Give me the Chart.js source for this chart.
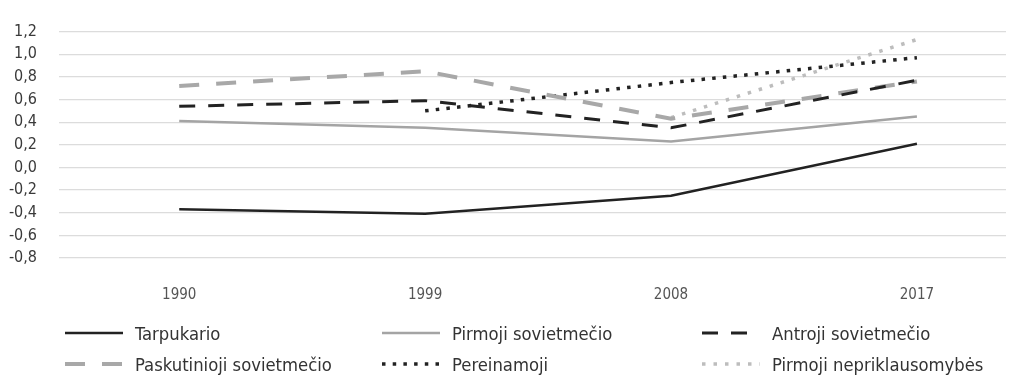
<!DOCTYPE html>
<html>
<head>
<meta charset="utf-8">
<script src="https://cdn.jsdelivr.net/npm/chart.js@4.4.1/dist/chart.umd.min.js"></script>
<style>
  body { margin: 0; background: #fff; }
  #wrap { position: absolute; left: 0; top: 0; width: 1010px; height: 300px; }
  #legend { position: absolute; left: 0; top: 0; width: 1010px; height: 377px;
    font-family: "DejaVu Sans Condensed", "DejaVu Sans", sans-serif;
    font-size: 18.3px; color: #333; pointer-events: none; }
  .item { position: absolute; display: flex; align-items: center; height: 24px; white-space: nowrap; }
  .item svg { margin-right: 12px; }
</style>
</head>
<body>
<div id="wrap"><canvas id="chart"></canvas></div>
<div id="legend"></div>
<script>
const FONT = '"DejaVu Sans Condensed", "DejaVu Sans", sans-serif';

const years = [1990, 1999, 2008, 2017];
const seriesNames = [
  "Tarpukario",
  "Pirmoji sovietmečio",
  "Antroji sovietmečio",
  "Paskutinioji sovietmečio",
  "Pereinamoji",
  "Pirmoji nepriklausomybės",
];

const tarpukario = [-0.37, -0.41, -0.25, 0.21];
const pirmojiSov = [0.41, 0.35, 0.23, 0.45];
const antrojiSov = [0.54, 0.59, 0.35, 0.77];
const paskutiniojiSov = [0.72, 0.85, 0.43, 0.76];
const pereinamoji = [null, 0.5, 0.75, 0.97];
const pirmojiNepr = [null, null, 0.44, 1.13];

// line looks, same order as seriesNames
const styles = [
  { color: "#222", width: 2.5, dash: [] },
  { color: "#a4a4a4", width: 2.5, dash: [] },
  { color: "#222", width: 3, dash: [16, 13] },
  { color: "#a8a8a8", width: 4, dash: [20, 17] },
  { color: "#222", width: 3.5, dash: [3.5, 7.2] },
  { color: "#bdbdbd", width: 3.5, dash: [3.5, 8] },
];

const values = [tarpukario, pirmojiSov, antrojiSov, paskutiniojiSov, pereinamoji, pirmojiNepr];

const datasets = values.map((vals, i) => ({
  label: seriesNames[i],
  data: vals.map((v, j) => ({ x: years[j], y: v })),
  borderColor: styles[i].color,
  borderWidth: styles[i].width,
  borderDash: styles[i].dash,
  borderCapStyle: "butt",
  pointRadius: 0,
  tension: 0,
  fill: false,
}));

const ctx = document.getElementById("chart").getContext("2d");
const chart = new Chart(ctx, {
  type: "line",
  data: { datasets: datasets },
  options: {
    responsive: true,
    maintainAspectRatio: false,
    animation: false,
    layout: { padding: { top: 20, right: 4, left: 0, bottom: 0 } },
    plugins: { legend: { display: false }, tooltip: { enabled: false } },
    scales: {
      x: {
        type: "linear",
        min: 1985.6,
        max: 2020.26,
        afterBuildTicks: (scale) => {
          scale.ticks = years.map((y) => ({ value: y }));
        },
        afterFit: (scale) => { scale.height = 42; },
        grid: { display: false },
        border: { display: false },
        ticks: {
          padding: 20,
          color: "#555",
          font: { family: FONT, size: 15 },
          callback: (v) => String(v),
        },
      },
      y: {
        min: -0.8,
        max: 1.2,
        afterFit: (scale) => { scale.width = 59; },
        grid: { color: "#dcdcdc", lineWidth: 1.2, drawTicks: false },
        border: { display: false },
        ticks: {
          stepSize: 0.2,
          padding: 22,
          color: "#3a3a3a",
          font: { family: FONT, size: 16 },
          callback: (v) => (Math.round(v * 10) / 10).toFixed(1).replace(".", ","),
        },
      },
    },
  },
});

// legend in 3 columns
const legend = document.getElementById("legend");
const colX = [65, 382, 702];
const rowY = [321, 352];
seriesNames.forEach((name, i) => {
  const s = styles[i];
  const item = document.createElement("div");
  item.className = "item";
  item.style.left = colX[i % 3] + "px";
  item.style.top = rowY[Math.floor(i / 3)] + "px";
  const dash = s.dash.length ? s.dash.join(" ") : "none";
  item.innerHTML =
    '<svg width="58" height="10"><line x1="0" y1="5" x2="58" y2="5" stroke="' + s.color +
    '" stroke-width="' + s.width + '" stroke-dasharray="' + dash + '"/></svg><span>' + name + "</span>";
  legend.appendChild(item);
});
</script>
</body>
</html>
